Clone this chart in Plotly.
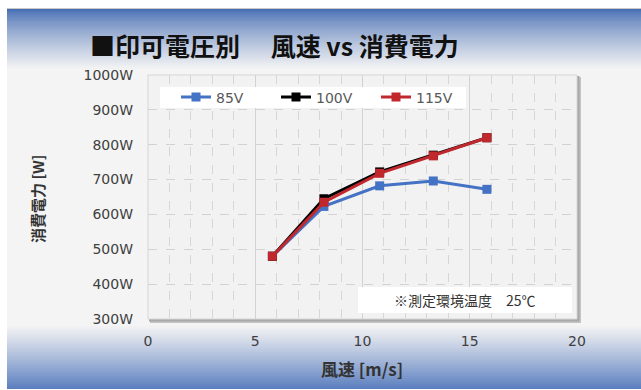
import plotly.graph_objects as go

# Measured wind speed (m/s) and power draw (W) per supply voltage
wind_speed = [5.8, 8.2, 10.8, 13.3, 15.8]
power_85v = [480, 623, 682, 696, 672]
power_100v = [480, 645, 722, 770, 820]
power_115v = [480, 635, 718, 768, 820]

series_names = ["85V", "100V", "115V"]
series_colors = ["#4472c4", "#000000", "#c0282d"]

title_text = "■印可電圧別　 風速 vs 消費電力"
x_title = "風速 [m/s]"
y_title = "消費電力 [W]"
note_text = "※測定環境温度　25℃"

FIG_W, FIG_H = 641, 390
L, R, T, B = 148, 577, 75, 319
PW, PH = R - L, B - T


def px(x):
    return (x - L) / PW


def py(y):
    return (B - y) / PH


def mix(c1, c2, t):
    return "rgb(%d,%d,%d)" % tuple(round(a + (b - a) * t) for a, b in zip(c1, c2))


fig = go.Figure()
for name, color, vals in zip(series_names, series_colors, [power_85v, power_100v, power_115v]):
    fig.add_trace(go.Scatter(
        x=wind_speed, y=vals, name=name, mode="lines+markers",
        line=dict(color=color, width=3),
        marker=dict(symbol="square", size=9, color=color),
    ))

shapes = []
# outer frame
shapes.append(dict(type="rect", xref="paper", yref="paper", x0=px(7), x1=px(FIG_W + 2),
                   y0=py(389), y1=py(8), fillcolor="#f4f4f4", line=dict(width=0), layer="below"))
shapes.append(dict(type="line", xref="paper", yref="paper", x0=px(7), x1=px(FIG_W + 2),
                   y0=py(8.5), y1=py(8.5), line=dict(color="#c8c8c8", width=1), layer="below"))
# top blue band fading to light gray
blue_top = (74, 112, 180)
light = (244, 244, 244)
y0, y1 = 9, 68
for yy in range(y0, y1, 2):
    t = ((yy - y0) / (y1 - y0)) ** 0.8
    shapes.append(dict(type="rect", xref="paper", yref="paper", x0=px(7), x1=px(FIG_W + 2),
                       y0=py(yy + 2), y1=py(yy), fillcolor=mix(blue_top, light, t),
                       line=dict(width=0), layer="below"))
# bottom band fading into blue
blue_bot = (88, 124, 190)
y0, y1 = 324, 389
for yy in range(y0, y1, 2):
    t = ((yy - y0) / (y1 - y0)) ** 1.1
    shapes.append(dict(type="rect", xref="paper", yref="paper", x0=px(7), x1=px(FIG_W + 2),
                       y0=py(min(yy + 2, y1)), y1=py(yy), fillcolor=mix(light, blue_bot, t),
                       line=dict(width=0), layer="below"))
# plot area drop shadow and fill
shapes.append(dict(type="rect", xref="paper", yref="paper", x0=px(L + 2), x1=px(R + 4),
                   y0=py(B + 4), y1=py(T + 2), fillcolor="#c4c4c4", line=dict(width=0), layer="below"))
shapes.append(dict(type="rect", xref="paper", yref="paper", x0=px(L + 1), x1=px(R + 2.5),
                   y0=py(B + 2.5), y1=py(T + 1), fillcolor="#a8a8a8", line=dict(width=0), layer="below"))
shapes.append(dict(type="rect", xref="paper", yref="paper", x0=0, x1=1, y0=0, y1=1,
                   fillcolor="#f2f2f2", line=dict(color="#d6d6d6", width=1), layer="below"))
# legend and note boxes
shapes.append(dict(type="rect", xref="paper", yref="paper", x0=px(160), x1=px(466),
                   y0=py(108), y1=py(87), fillcolor="#ffffff", line=dict(width=0), layer="above"))
shapes.append(dict(type="rect", xref="paper", yref="paper", x0=px(358), x1=px(572),
                   y0=py(313), y1=py(287), fillcolor="#ffffff", line=dict(width=0), layer="above"))

annotations = [
    dict(text=title_text, xref="paper", yref="paper", x=px(88), y=py(45), xanchor="left",
         yanchor="middle", showarrow=False,
         font=dict(family="Noto Sans CJK JP", size=25, color="#111111", weight="bold")),
    dict(text=y_title, xref="paper", yref="paper", x=px(37), y=py(199), textangle=-90,
         xanchor="center", yanchor="middle", showarrow=False,
         font=dict(family="Noto Sans CJK JP", size=15, color="#333333", weight="bold")),
    dict(text=x_title, xref="paper", yref="paper", x=px(362), y=py(368),
         xanchor="center", yanchor="middle", showarrow=False,
         font=dict(family="Noto Sans CJK JP", size=17, color="#333333", weight="bold")),
    dict(text=note_text, xref="paper", yref="paper", x=px(465), y=py(300),
         xanchor="center", yanchor="middle", showarrow=False,
         font=dict(family="Noto Sans CJK JP", size=14, color="#333333")),
]

fig.update_layout(
    width=FIG_W, height=FIG_H,
    margin=dict(l=L, r=FIG_W - R, t=T, b=FIG_H - B, pad=0),
    paper_bgcolor="#ffffff", plot_bgcolor="rgba(0,0,0,0)",
    shapes=shapes, annotations=annotations,
    showlegend=True,
    legend=dict(orientation="h", x=px(176), y=py(97.5), xanchor="left", yanchor="middle",
                bgcolor="rgba(0,0,0,0)", borderwidth=0,
                font=dict(family="DejaVu Sans", size=14, color="#595959"),
                entrywidth=55, entrywidthmode="pixels", traceorder="normal"),
    xaxis=dict(range=[0, 20], dtick=5, tick0=0, showgrid=True, gridcolor="#d2d2d2", gridwidth=1,
               zeroline=False, showline=False, ticks="", ticklabelstandoff=12,
               tickfont=dict(family="DejaVu Sans", size=14, color="#404040"),
               minor=dict(dtick=1, showgrid=True, gridcolor="#d6d6d6", griddash="dash", gridwidth=1)),
    yaxis=dict(range=[300, 1000], dtick=100, tick0=300, ticksuffix="W", showgrid=True,
               gridcolor="#d2d2d2", griddash="dash", gridwidth=1,
               zeroline=False, showline=False, ticks="", ticklabelstandoff=14,
               tickfont=dict(family="DejaVu Sans", size=14, color="#404040")),
)

fig.write_html("out.html")
